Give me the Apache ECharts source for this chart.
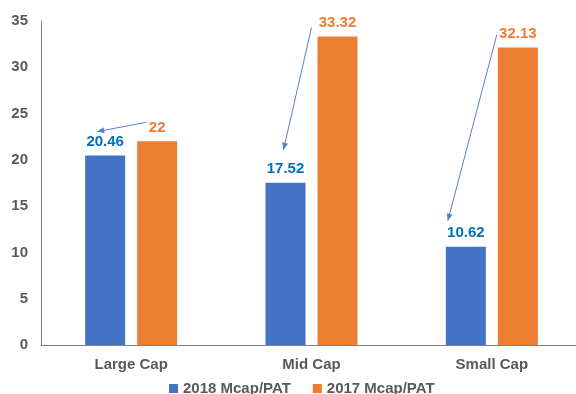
<!DOCTYPE html>
<html><head><meta charset="utf-8">
<script src="https://cdn.jsdelivr.net/npm/echarts@6/dist/echarts.min.js"></script>
<style>html,body{margin:0;padding:0;background:#fff}#c{width:576px;height:394px}</style>
</head><body><div id="c"></div>
<script>
const categories = ['Large Cap', 'Mid Cap', 'Small Cap'];
const series2018 = [20.46, 17.52, 10.62];
const series2017 = [22, 33.32, 32.13];
const seriesNames = ['2018 Mcap/PAT', '2017 Mcap/PAT'];
const yTicks = [0, 5, 10, 15, 20, 25, 30, 35];

const chart = echarts.init(document.getElementById('c'), null, {renderer: 'canvas'});
const FONT = 'Liberation Sans, Arial, sans-serif';
const BAR_W = 40, BAR_GAP = 12;

chart.setOption({
  animation: false,
  grid: {left: 41, width: 541, top: 21, bottom: 49, containLabel: false, outerBoundsMode: 'none'},
  legend: {
    data: seriesNames, left: 164, top: 376, icon: 'rect', itemWidth: 9, itemHeight: 9,
    itemGap: 22,
    textStyle: {fontFamily: FONT, fontSize: 15, fontWeight: 'bold', color: '#595959'}
  },
  xAxis: {
    type: 'category', data: categories,
    axisLine: {lineStyle: {color: '#808080', width: 1}},
    axisTick: {show: false},
    axisLabel: {fontFamily: FONT, fontSize: 15, fontWeight: 'bold', color: '#595959', margin: 12}
  },
  yAxis: {
    type: 'value', min: yTicks[0], max: yTicks[yTicks.length - 1], interval: 5,
    axisLine: {show: true, lineStyle: {color: '#808080', width: 1}},
    axisTick: {show: false},
    splitLine: {show: false},
    axisLabel: {fontFamily: FONT, fontSize: 15, fontWeight: 'bold', color: '#595959', margin: 13}
  },
  series: [
    {name: seriesNames[0], type: 'bar', data: series2018, barWidth: BAR_W, barGap: (BAR_GAP / BAR_W * 100) + '%',
     itemStyle: {color: '#4472C4'},
     label: {show: true, position: 'top', distance: 6, fontFamily: FONT, fontSize: 15, fontWeight: 'bold', color: '#0070C0'}},
    {name: seriesNames[1], type: 'bar', data: series2017, barWidth: BAR_W,
     itemStyle: {color: '#ED7D31'},
     label: {show: true, position: 'top', distance: 6, fontFamily: FONT, fontSize: 15, fontWeight: 'bold', color: '#ED7D31'}}
  ]
});

// annotation arrows: from the 2017 label to the 2018 label (offsets relative to bar tops, in px)
const arrowOffsets = [
  {s: [-11, -19], e: [-8, -24]},
  {s: [-26, -9], e: [-2, -33]},
  {s: [-21, -13], e: [-18, -26]}
];
const half = (BAR_W + BAR_GAP) / 2;
const elements = [];
categories.forEach((c, i) => {
  const pO = chart.convertToPixel({gridIndex: 0}, [i, series2017[i]]);
  const pB = chart.convertToPixel({gridIndex: 0}, [i, series2018[i]]);
  const sx = pO[0] + half + arrowOffsets[i].s[0], sy = pO[1] + arrowOffsets[i].s[1];
  const ex = pB[0] - half + arrowOffsets[i].e[0], ey = pB[1] + arrowOffsets[i].e[1];
  elements.push({type: 'line', shape: {x1: sx, y1: sy, x2: ex, y2: ey}, style: {stroke: '#5B7FC8', lineWidth: 1}, z: 100});
  const ang = Math.atan2(ey - sy, ex - sx);
  const L = 7, W = 3;
  const bx = ex - L * Math.cos(ang), by = ey - L * Math.sin(ang);
  elements.push({type: 'polygon', shape: {points: [[ex, ey], [bx + W * Math.sin(ang), by - W * Math.cos(ang)], [bx - W * Math.sin(ang), by + W * Math.cos(ang)]]}, style: {fill: '#5B7FC8'}, z: 100});
});
chart.setOption({graphic: {elements: elements}});
</script>
</body></html>
